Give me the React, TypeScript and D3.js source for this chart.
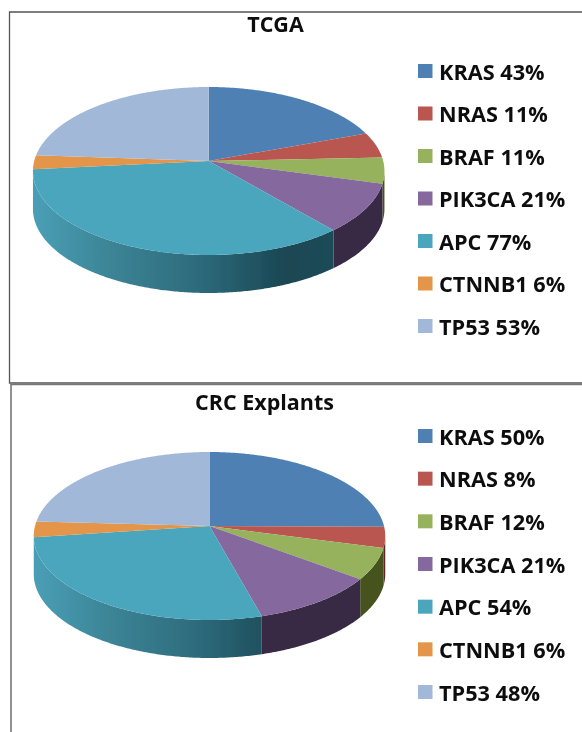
import React from 'react'
import * as d3 from 'd3'

const genes = ['KRAS', 'NRAS', 'BRAF', 'PIK3CA', 'APC', 'CTNNB1', 'TP53']
const tcgaValues = [43, 11, 11, 21, 77, 6, 53]
const crcValues = [50, 8, 12, 21, 54, 6, 48]
const topColors = ['#4f80b4', '#b85650', '#97b25c', '#85689d', '#4aa6bd', '#e39549', '#a2b8d8']
const wallColors = ['#2d4a6b', '#5c2825', '#46521f', '#382a45', 'url(#apcWall)', '#8a5523', '#5d6f8a']

const depth = 38
const rx = 174.5
const tilt = 0.119 // perspective of the disc, near edge looks bigger than the far one
const ryBase = 82.8
const sideStart = Math.acos(-tilt)
const sideEnd = 2 * Math.PI - sideStart

const rim = (cx: number, cy: number, a: number, dy = 0): [number, number] => {
  const w = 1 + tilt * Math.cos(a)
  return [cx + (rx * Math.sin(a)) / w, cy + dy + (-ryBase * Math.cos(a)) / w]
}

const samples = (a0: number, a1: number) => {
  const n = Math.max(2, Math.ceil((a1 - a0) / 0.01))
  return d3.range(n + 1).map((i) => a0 + ((a1 - a0) * i) / n)
}

const line = d3.line()

const Pie3D = ({ values, cx, cy }: { values: number[]; cx: number; cy: number }) => {
  const arcs = d3.pie<number>().sort(null)(values)
  return (
    <g>
      {arcs.map((d, i) => {
        const a0 = Math.max(d.startAngle, sideStart)
        const a1 = Math.min(d.endAngle, sideEnd)
        if (a1 <= a0) return null
        const top = samples(a0, a1).map((a) => rim(cx, cy, a))
        const bottom = samples(a0, a1).reverse().map((a) => rim(cx, cy, a, depth))
        return <path key={i} d={line([...top, ...bottom]) + 'Z'} fill={wallColors[i]} />
      })}
      {arcs.map((d, i) => {
        const pts = [[cx, cy] as [number, number], ...samples(d.startAngle, d.endAngle).map((a) => rim(cx, cy, a))]
        return <path key={i} d={line(pts) + 'Z'} fill={topColors[i]} />
      })}
    </g>
  )
}

const Legend = ({ values, y0, y1 }: { values: number[]; y0: number; y1: number }) => {
  const y = d3.scaleLinear().domain([0, genes.length - 1]).range([y0, y1])
  return (
    <g>
      {genes.map((g, i) => (
        <g key={g} transform={`translate(418,${y(i)})`}>
          <rect x={0} y={-7} width={14.5} height={14} fill={topColors[i]} />
          <text x={21} y={8.5} fontSize={21.7} fontWeight={700} fontFamily="'Open Sans', sans-serif" fill="#111">
            {`${g} ${values[i]}%`}
          </text>
        </g>
      ))}
    </g>
  )
}

export default function App() {
  return (
    <svg width={582} height={732} style={{ position: 'absolute', left: 0, top: 0, background: '#fff' }}>
      <defs>
        <linearGradient id="apcWall" gradientUnits="userSpaceOnUse" x1={33} x2={333} y1={0} y2={0}>
          <stop offset="0" stopColor="#4a9fb6" />
          <stop offset="0.25" stopColor="#3c8597" />
          <stop offset="0.55" stopColor="#2d6b7c" />
          <stop offset="0.85" stopColor="#1a4652" />
          <stop offset="1" stopColor="#1b4c59" />
        </linearGradient>
        <filter id="soft" x="-5%" y="-5%" width="110%" height="110%">
          <feGaussianBlur stdDeviation="0.5" />
        </filter>
      </defs>
      <g filter="url(#soft)">
        <path d="M582,12H9.5V383H582" fill="none" stroke="#555" strokeWidth={1.3} />
        <path d="M582,384.5H11V732" fill="none" stroke="#777" strokeWidth={1.6} />

        <text x={275.5} y={32} textAnchor="middle" fontSize={21.5} fontWeight={700} fontFamily="'Open Sans', sans-serif" fill="#111">TCGA</text>
        <text x={264.5} y={410} textAnchor="middle" fontSize={21.5} fontWeight={700} fontFamily="'Open Sans', sans-serif" fill="#111">CRC Explants</text>

        <Pie3D values={tcgaValues} cx={208.7} cy={161} />
        <Pie3D values={crcValues} cx={209.5} cy={526} />

        <Legend values={tcgaValues} y0={71} y1={326} />
        <Legend values={crcValues} y0={436} y1={692} />
      </g>
    </svg>
  )
}
